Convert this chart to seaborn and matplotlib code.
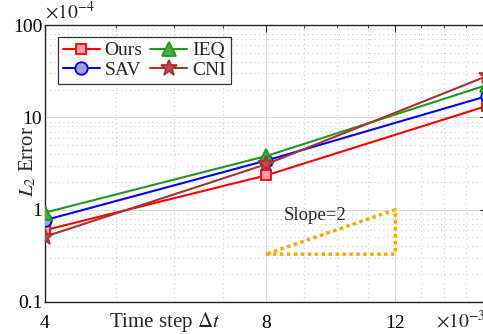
import numpy as np
import pandas as pd
import matplotlib
matplotlib.use("Agg")
import matplotlib.pyplot as plt
import seaborn as sns
from matplotlib.ticker import FixedLocator, FixedFormatter, NullFormatter

# data (x in units of 1e-3, errors in units of 1e-4)
dt = [4, 8, 16]
err_ours = [0.60, 2.35, 13.3]
err_sav = [0.77, 3.40, 17.0]
err_ieq = [0.93, 3.80, 22.4]
err_cni = [0.51, 3.10, 28.0]
series_names = ["Ours", "SAV", "IEQ", "CNI"]
x_ticks = [4, 8, 12]
y_ticks = [0.1, 1, 10, 100]
y_tick_labels = ["0.1", "1", "10", "100"]
slope_x = [8, 12, 12, 8]
slope_y = [0.33, 0.33, 1.0, 0.33]

sns.set_style("white")
plt.rcParams["font.family"] = ["Liberation Serif", "DejaVu Serif"]
plt.rcParams["mathtext.fontset"] = "stix"

fig = plt.figure(figsize=(4.83, 3.34), dpi=100)
ax = fig.add_axes([45 / 483, 1 - 302 / 334, 442 / 483, 277 / 334])

styles = {
    "Ours": dict(color="#ff0000", marker="s", mfc="#f7a0a8"),
    "SAV": dict(color="#0000ff", marker="o", mfc="#9fa0f0"),
    "IEQ": dict(color="#22961e", marker="^", mfc="#3cb43c"),
    "CNI": dict(color="#a83232", marker="*", mfc="#c84848"),
}
vals = {"Ours": err_ours, "SAV": err_sav, "IEQ": err_ieq, "CNI": err_cni}
msize = {"Ours": 7.5, "SAV": 9, "IEQ": 10, "CNI": 12}

for name in series_names:
    st = styles[name]
    df = pd.DataFrame({"dt": dt, "err": vals[name]})
    sns.lineplot(data=df, x="dt", y="err", ax=ax, color=st["color"],
                 marker=st["marker"], markersize=msize[name],
                 markerfacecolor=st["mfc"], markeredgecolor=st["color"],
                 markeredgewidth=1.3, linewidth=1.5, label=name, zorder=3)

# slope triangle
sns.lineplot(x=slope_x, y=slope_y, ax=ax, sort=False, estimator=None,
             color="#ffa500", linestyle=(0, (1, 1)), linewidth=2.5, zorder=2)
ax.text(8.45, 0.86, "Slope=2", fontsize=13.5, va="center", ha="left")

ax.set_xscale("log")
ax.set_yscale("log")
ax.set_xlim(4, 16)
ax.set_ylim(0.1, 100)

ax.xaxis.set_major_locator(FixedLocator(x_ticks))
ax.xaxis.set_major_formatter(FixedFormatter([str(v) for v in x_ticks]))
ax.xaxis.set_minor_locator(FixedLocator([5, 6, 7, 9, 10, 11, 13, 14, 15]))
ax.xaxis.set_minor_formatter(NullFormatter())
ax.yaxis.set_major_locator(FixedLocator(y_ticks))
ax.yaxis.set_major_formatter(FixedFormatter(y_tick_labels))
minor_y = [m * 10.0 ** e for e in range(-1, 2) for m in range(2, 10)]
ax.yaxis.set_minor_locator(FixedLocator(minor_y))
ax.yaxis.set_minor_formatter(NullFormatter())

ax.tick_params(which="both", direction="in", top=True, right=True,
               labelsize=14, colors="#262626", labelcolor="black")
ax.tick_params(which="major", length=5, width=0.8)
ax.tick_params(which="minor", length=2.5, width=0.6)
ax.tick_params(axis="x", which="major", pad=9)
ax.tick_params(axis="y", which="major", pad=2)

ax.grid(which="major", color="#dcdcdc", linewidth=0.8, linestyle="-")
ax.grid(which="minor", color="#cccccc", linewidth=0.8, linestyle=(0, (1, 3)))
ax.set_axisbelow(True)
for s in ax.spines.values():
    s.set_color("#262626")
    s.set_linewidth(1.0)

ax.set_xlabel(r"Time step $\Delta t$", fontsize=15, va="center")
ax.xaxis.set_label_coords((165 - 45) / 442, (302 - 322) / 277)
ax.set_ylabel(r"$L_2$ Error", fontsize=15, va="center")
ax.yaxis.set_label_coords((28 - 45) / 442, (302 - 162) / 277)

ax.text(0.0, 1.008, r"$\times10^{-4}$", transform=ax.transAxes, fontsize=14,
        ha="left", va="bottom")
fig.text(436 / 483, 1 - 321 / 334, r"$\times10^{-3}$", fontsize=14,
         ha="left", va="center")

leg = ax.legend(ncol=2, loc="upper left", bbox_to_anchor=(0.029, 0.957),
                fontsize=14, frameon=True, fancybox=False, handlelength=1.9,
                handletextpad=0.25, columnspacing=0.4, labelspacing=0.1,
                borderpad=0.25, borderaxespad=0)
leg.get_frame().set_edgecolor("black")
leg.get_frame().set_linewidth(0.9)

fig.savefig("out.png", dpi=100)
